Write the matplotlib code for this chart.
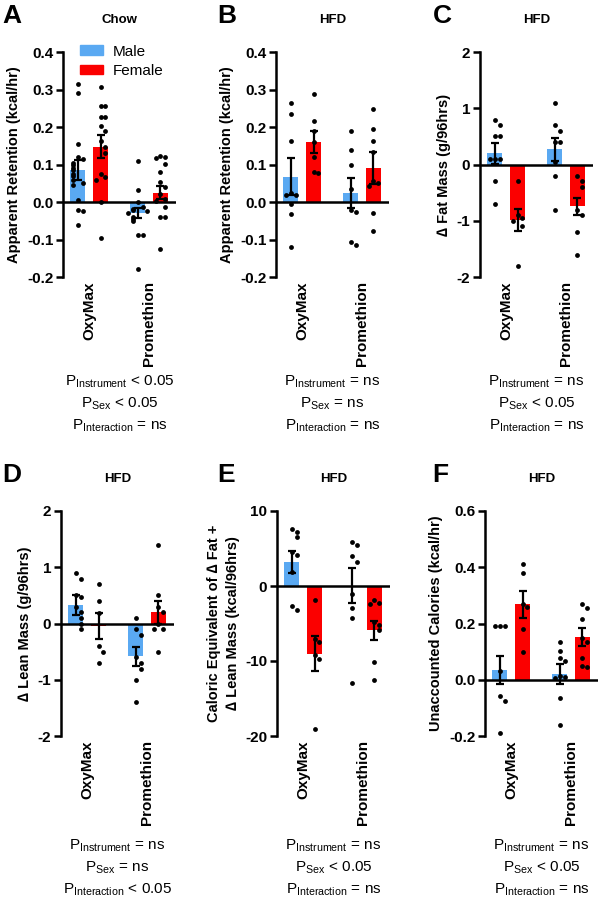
import numpy as np
import matplotlib
matplotlib.use("Agg")
import matplotlib.pyplot as plt
from matplotlib.patches import Patch

plt.rcParams['font.family'] = ['Liberation Sans', 'DejaVu Sans']
plt.rcParams['mathtext.fontset'] = 'custom'
plt.rcParams['mathtext.rm'] = 'Liberation Sans'
plt.rcParams['axes.unicode_minus'] = False

instruments = ["OxyMax", "Promethion"]
blue = "#5aa9f2"
red = "#fb0000"

# panel A - chow, apparent retention
a_male = [[0.315, 0.29, 0.155, 0.12, 0.115, 0.105, 0.1, 0.09, 0.085, 0.075, 0.07, 0.06, 0.05, 0.045, 0.005, -0.02, -0.025, -0.06],
          [0.11, 0.033, 0.0, -0.013, -0.018, -0.02, -0.025, -0.03, -0.04, -0.045, -0.05, -0.088, -0.088, -0.178]]
a_female = [[0.308, 0.255, 0.255, 0.227, 0.227, 0.204, 0.19, 0.164, 0.147, 0.13, 0.076, 0.067, 0.058, 0.0, -0.097],
            [0.124, 0.12, 0.118, 0.102, 0.08, 0.053, 0.04, 0.022, 0.009, 0.004, -0.013, -0.04, -0.04, -0.124]]
a_male_mean, a_male_sem = [0.086, -0.03], [0.027, 0.013]
a_female_mean, a_female_sem = [0.148, 0.025], [0.03, 0.018]

# panel B - HFD, apparent retention
b_male = [[0.265, 0.235, 0.163, 0.024, 0.02, 0.018, -0.004, -0.033, -0.12],
          [0.19, 0.14, 0.1, 0.036, -0.02, -0.027, -0.107, -0.115]]
b_female = [[0.287, 0.216, 0.19, 0.16, 0.12, 0.08, 0.077],
            [0.247, 0.195, 0.164, 0.133, 0.055, 0.05, 0.042, -0.029, -0.076]]
b_male_mean, b_male_sem = [0.068, 0.024], [0.049, 0.04]
b_female_mean, b_female_sem = [0.16, 0.09], [0.03, 0.043]

# panel C - delta fat mass
c_male = [[0.8, 0.7, 0.5, 0.5, 0.1, 0.1, 0.1, -0.3, -0.7],
          [1.1, 0.7, 0.6, 0.4, 0.4, 0.05, -0.2, -0.8]]
c_female = [[-0.3, -0.9, -0.95, -1.0, -1.1, -1.8],
            [-0.2, -0.3, -0.4, -0.8, -0.9, -1.2, -1.6]]
c_male_mean, c_male_sem = [0.2, 0.27], [0.19, 0.21]
c_female_mean, c_female_sem = [-0.99, -0.74], [0.2, 0.15]

# panel D - delta lean mass
d_male = [[0.9, 0.8, 0.5, 0.47, 0.3, 0.2, 0.1, 0.0, -0.1],
          [0.1, -0.1, -0.2, -0.6, -0.7, -0.8, -1.0, -1.4]]
d_female = [[0.7, 0.4, 0.18, -0.4, -0.5, -0.7],
            [1.4, 0.5, 0.3, 0.2, 0.0, -0.1, -0.1, -0.5]]
d_male_mean, d_male_sem = [0.33, -0.58], [0.17, 0.17]
d_female_mean, d_female_sem = [-0.05, 0.2], [0.23, 0.2]

# panel E - caloric equivalent
e_male = [[7.6, 7.2, 6.5, 4.5, 4.1, 1.9, -2.7, -3.2],
          [5.9, 5.5, 4.0, 3.2, -1.0, -2.9, -4.2, -12.9]]
e_female = [[-1.9, -7.1, -7.5, -9.2, -9.7, -19.1],
            [-1.9, -2.2, -2.4, -4.8, -5.2, -5.9, -10.1, -12.5]]
e_male_mean, e_male_sem = [3.2, 0.05], [1.5, 2.3]
e_female_mean, e_female_sem = [-9.0, -5.9], [2.3, 1.3]

# panel F - unaccounted calories
f_male = [[0.19, 0.19, 0.19, 0.03, -0.057, -0.077, -0.19],
          [0.133, 0.104, 0.077, 0.067, 0.012, 0.01, 0.005, -0.065, -0.16]]
f_female = [[0.41, 0.38, 0.27, 0.26, 0.18, 0.1],
            [0.27, 0.255, 0.215, 0.148, 0.135, 0.077, 0.05, 0.045]]
f_male_mean, f_male_sem = [0.035, 0.02], [0.05, 0.035]
f_female_mean, f_female_sem = [0.268, 0.152], [0.048, 0.031]

stats = {
    "A": ["< 0.05", "< 0.05", "= ns"],
    "B": ["= ns", "= ns", "= ns"],
    "C": ["= ns", "< 0.05", "= ns"],
    "D": ["= ns", "= ns", "< 0.05"],
    "E": ["= ns", "< 0.05", "= ns"],
    "F": ["= ns", "< 0.05", "= ns"],
}


def swarm(vals, dy, dx):
    # spread points with similar values sideways, prism style
    offs = np.zeros(len(vals))
    placed = []
    for i, v in enumerate(vals):
        k = sum(1 for u in placed if abs(u - v) < dy)
        offs[i] = ((k + 1) // 2) * dx * (1 if k % 2 else -1)
        placed.append(v)
    return offs


def draw(ax, male, female, mm, ms, fm, fs, ylim, yticks, fmt, ylabel):
    x = np.arange(2)
    dy = 0.03 * (ylim[1] - ylim[0])
    for off, vals, mean, sem, col in [(-0.19, male, mm, ms, blue), (0.19, female, fm, fs, red)]:
        ax.bar(x + off, mean, width=0.25, color=col, zorder=1)
        for i in range(2):
            v = np.array(vals[i])
            ax.scatter(x[i] + off + swarm(v, dy, 0.08), v, s=12, color="k", zorder=3, linewidths=0)
        ax.errorbar(x + off, mean, yerr=sem, fmt="none", ecolor="k", elinewidth=1.6,
                    capsize=2.8, capthick=1.6, zorder=4)
    ax.axhline(0, color="k", lw=1.8, zorder=5)
    ax.set_xlim(-0.44, 1.45)
    ax.set_ylim(ylim)
    ax.set_yticks(yticks)
    ax.set_yticklabels([fmt.format(t) for t in yticks], fontweight="bold", fontsize=11)
    for s in ["top", "right", "bottom"]:
        ax.spines[s].set_visible(False)
    ax.spines["left"].set_linewidth(1.8)
    ax.spines["left"].set_bounds(ylim[0], ylim[1])
    ax.tick_params(axis="y", width=1.8, length=5, pad=2)
    ax.set_xticks(x)
    ax.set_xticklabels(instruments, rotation=90, fontweight="bold", fontsize=11)
    ax.tick_params(axis="x", length=0, pad=3)
    ax.set_ylabel(ylabel, fontweight="bold", fontsize=10.5, labelpad=4, linespacing=1.45)


fig = plt.figure(figsize=(6, 8.98), dpi=100)
W, H = 600, 898


def make_ax(left_px, top_px):
    return fig.add_axes([left_px / W, 1 - (top_px + 225) / H, 113 / W, 225 / H])


panels = [
    ("A", "Chow", 63, 52, a_male, a_female, a_male_mean, a_male_sem, a_female_mean, a_female_sem,
     (-0.2, 0.4), [-0.2, -0.1, 0.0, 0.1, 0.2, 0.3, 0.4], "{:.1f}", "Apparent Retention (kcal/hr)"),
    ("B", "HFD", 276, 52, b_male, b_female, b_male_mean, b_male_sem, b_female_mean, b_female_sem,
     (-0.2, 0.4), [-0.2, -0.1, 0.0, 0.1, 0.2, 0.3, 0.4], "{:.1f}", "Apparent Retention (kcal/hr)"),
    ("C", "HFD", 480, 52, c_male, c_female, c_male_mean, c_male_sem, c_female_mean, c_female_sem,
     (-2, 2), [-2, -1, 0, 1, 2], "{:d}", "\u2206 Fat Mass (g/96hrs)"),
    ("D", "HFD", 61, 511, d_male, d_female, d_male_mean, d_male_sem, d_female_mean, d_female_sem,
     (-2, 2), [-2, -1, 0, 1, 2], "{:d}", "\u2206 Lean Mass (g/96hrs)"),
    ("E", "HFD", 277, 511, e_male, e_female, e_male_mean, e_male_sem, e_female_mean, e_female_sem,
     (-20, 10), [-20, -10, 0, 10], "{:d}", "Caloric Equivalent of \u2206 Fat +\n\u2206 Lean Mass (kcal/96hrs)"),
    ("F", "HFD", 485, 511, f_male, f_female, f_male_mean, f_male_sem, f_female_mean, f_female_sem,
     (-0.2, 0.6), [-0.2, 0.0, 0.2, 0.4, 0.6], "{:.1f}", "Unaccounted Calories (kcal/hr)"),
]

letter_x = {"A": 12, "B": 227, "C": 442, "D": 12, "E": 226, "F": 440}
stats_top = {52: 382, 511: 846}

for letter, title, lx, ty, male, female, mm, ms, fm, fs, ylim, yticks, fmt, ylabel in panels:
    ax = make_ax(lx, ty)
    draw(ax, male, female, mm, ms, fm, fs, ylim, yticks, fmt, ylabel)
    cx = (lx + 56.5) / W
    fig.text(cx, 1 - (ty - 32) / H, title, ha="center", va="center", fontweight="bold", fontsize=9.5)
    fig.text(letter_x[letter] / W, 1 - (ty - 36) / H, letter, ha="center", va="center",
             fontweight="bold", fontsize=19)
    base = stats_top[ty]
    names = ["Instrument", "Sex", "Interaction"]
    for k, (nm, val) in enumerate(zip(names, stats[letter])):
        fig.text(cx, 1 - (base + 22 * k) / H, r"P$_{\mathrm{" + nm + "}}$ " + val,
                 ha="center", va="center", fontsize=11)
    if letter == "A":
        ax.legend(handles=[Patch(color=blue, label="Male"), Patch(color=red, label="Female")],
                  loc="upper left", bbox_to_anchor=(0.1, 1.06), frameon=False, fontsize=11,
                  handlelength=1.5, handleheight=0.6, labelspacing=0.35, handletextpad=0.6,
                  borderaxespad=0)

fig.savefig("out.png", dpi=100)
